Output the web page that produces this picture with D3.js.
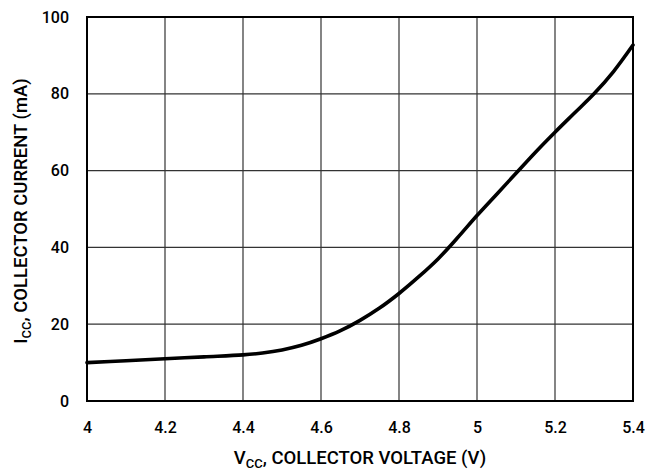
<!DOCTYPE html>
<html>
<head>
<meta charset="utf-8">
<script src="https://cdn.jsdelivr.net/npm/d3@7"></script>
<style>
  body { margin: 0; background: #fff; }
  text { font-family: Roboto, "Liberation Sans", sans-serif; font-weight: 500; fill: #000; }
</style>
</head>
<body>
<div id="chart"></div>
<script>
// curve
const voltage = [4.0, 4.1, 4.2, 4.3, 4.4, 4.45, 4.5, 4.55, 4.6, 4.65, 4.7, 4.75, 4.8, 4.85, 4.9, 4.95, 5.0, 5.05, 5.1, 5.15, 5.2, 5.25, 5.3, 5.35, 5.4];
const current = [10.0, 10.5, 11.0, 11.5, 12.0, 12.5, 13.3, 14.5, 16.2, 18.3, 21.0, 24.2, 28.0, 32.3, 37.0, 42.5, 48.3, 53.8, 59.3, 64.8, 70.0, 75.0, 80.0, 85.8, 92.7];
const xTicks = [4, 4.2, 4.4, 4.6, 4.8, 5, 5.2, 5.4];
const yTicks = [0, 20, 40, 60, 80, 100];

const W = 652, H = 472;
const margin = {top: 17, right: 19, bottom: 71, left: 87};
const width = W - margin.left - margin.right;
const height = H - margin.top - margin.bottom;

const svg = d3.select("#chart").append("svg")
  .attr("width", W).attr("height", H)
  .append("g")
  .attr("transform", "translate(" + margin.left + "," + margin.top + ")");

const x = d3.scaleLinear().domain([4, 5.4]).range([0, width]);
const y = d3.scaleLinear().domain([0, 100]).range([height, 0]);

// grid
svg.append("g")
  .selectAll("line")
  .data(xTicks)
  .enter().append("line")
  .attr("x1", d => x(d)).attr("x2", d => x(d))
  .attr("y1", 0).attr("y2", height)
  .attr("stroke", "#333").attr("stroke-width", 1.2);
svg.append("g")
  .selectAll("line")
  .data(yTicks)
  .enter().append("line")
  .attr("x1", 0).attr("x2", width)
  .attr("y1", d => y(d)).attr("y2", d => y(d))
  .attr("stroke", "#333").attr("stroke-width", 1.2);

// frame
svg.append("rect")
  .attr("width", width).attr("height", height)
  .attr("fill", "none").attr("stroke", "#000").attr("stroke-width", 2);

// axes (labels only)
const xAxis = d3.axisBottom(x).tickValues(xTicks).tickSize(0).tickPadding(21).tickFormat(d3.format("~g"));
svg.append("g")
  .attr("transform", "translate(0," + height + ")")
  .call(xAxis)
  .call(g => g.select(".domain").remove())
  .selectAll("text").style("font-size", "16px").attr("font-family", null);

const yAxis = d3.axisLeft(y).tickValues(yTicks).tickSize(0).tickPadding(18);
svg.append("g")
  .call(yAxis)
  .call(g => g.select(".domain").remove())
  .selectAll("text").style("font-size", "16px").attr("font-family", null);

// curve
svg.append("path")
  .datum(voltage.map((v, i) => ({v: v, c: current[i]})))
  .attr("fill", "none")
  .attr("stroke", "#000")
  .attr("stroke-width", 3.6)
  .attr("stroke-linecap", "round")
  .attr("d", d3.line().curve(d3.curveCatmullRom).x(d => x(d.v)).y(d => y(d.c)));

// axis titles
const xt = svg.append("text")
  .attr("x", width / 2).attr("y", height + 63)
  .attr("text-anchor", "middle")
  .style("font-size", "18.5px");
xt.append("tspan").text("V");
xt.append("tspan").attr("dy", 4).style("font-size", "13px").text("CC");
xt.append("tspan").attr("dy", -4).text(", COLLECTOR VOLTAGE (V)");

const yt = svg.append("text")
  .attr("transform", "translate(-60," + (height / 2 + 2) + ") rotate(-90)")
  .attr("text-anchor", "middle")
  .style("font-size", "18.5px");
yt.append("tspan").text("I");
yt.append("tspan").attr("dy", 4).style("font-size", "13px").text("CC");
yt.append("tspan").attr("dy", -4).text(", COLLECTOR CURRENT (mA)");
</script>
</body>
</html>
